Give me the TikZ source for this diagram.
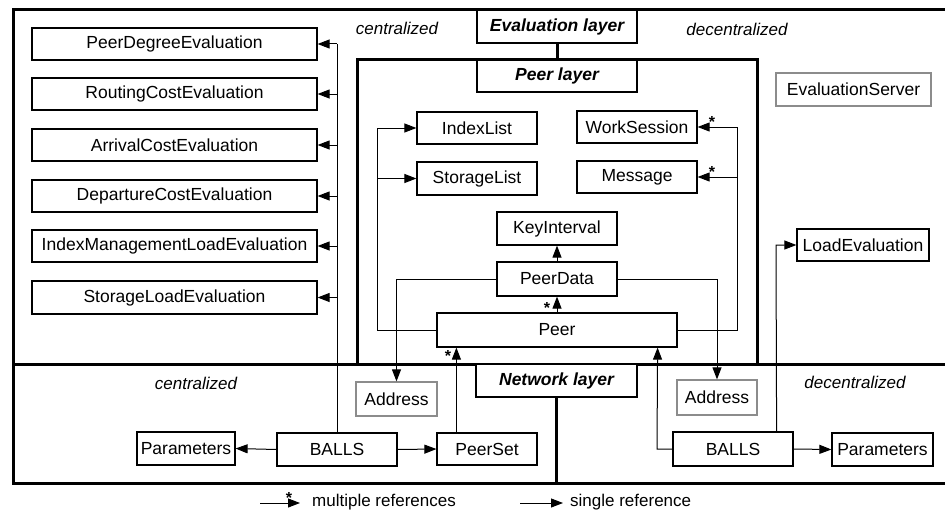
\documentclass[tikz,border=0pt]{standalone}
\usepackage{fontspec}
\setmainfont{Liberation Sans}
\usetikzlibrary{arrows.meta}
\begin{document}
\begin{tikzpicture}[x=1pt,y=-1pt,
  box/.style={draw, line width=1.2pt, inner sep=0pt, fill=white, font=\fontsize{17.5}{20}\selectfont},
  graybox/.style={box, draw=black!45},
  layerbox/.style={box, font=\fontsize{17.5}{20}\selectfont\bfseries\itshape},
  zone/.style={inner sep=0pt, font=\fontsize{17}{20}\selectfont\itshape},
  legendtext/.style={inner sep=0pt, anchor=west, font=\fontsize{17}{20}\selectfont},
  frameline/.style={line width=3pt},
  conn/.style={line width=1pt},
  arr/.style={conn, -{Triangle[length=12pt,width=9pt]}},
  startxt/.style={inner sep=0pt, font=\fontsize{16}{16}\selectfont\bfseries}
]
\useasboundingbox (0,0) rectangle (945,511);

% frames
\draw[frameline] (945,10) -- (13,10) -- (13,483) -- (945,483);
\draw[frameline] (13,364) -- (945,364);
\draw[frameline] (357,364) -- (357,60) -- (757,60) -- (757,364);

% layer label boxes
\node[layerbox, minimum width=160pt, minimum height=33pt] (evallayer) at (557,26.5) {Evaluation layer};
\node[layerbox, minimum width=160pt, minimum height=32pt] (peerlayer) at (557,76) {Peer layer};
\node[layerbox, minimum width=161pt, minimum height=33pt] (netlayer) at (556.5,380.5) {Network layer};
\draw[frameline] (evallayer.south) -- (peerlayer.north);
\draw[frameline] (netlayer.south) -- (556.5,483);

% zone labels
\node[zone] (czt) at (397,28) {centralized};
\node[zone] (dzt) at (737,29) {decentralized};
\node[zone] (czb) at (196,383) {centralized};
\node[zone] (dzb) at (855,382) {decentralized};

% evaluation boxes (left)
\node[box, minimum width=285pt, minimum height=32pt] (pde) at (174.5,44) {PeerDegreeEvaluation};
\node[box, minimum width=285pt, minimum height=32pt] (rce) at (174.5,94) {RoutingCostEvaluation};
\node[box, minimum width=285pt, minimum height=32pt] (ace) at (174.5,145) {ArrivalCostEvaluation};
\node[box, minimum width=285pt, minimum height=32pt] (dce) at (174.5,196) {DepartureCostEvaluation};
\node[box, minimum width=285pt, minimum height=32pt] (imle) at (174.5,246) {IndexManagementLoadEvaluation};
\node[box, minimum width=285pt, minimum height=33pt] (sle) at (174.5,297.5) {StorageLoadEvaluation};

% right side
\node[graybox, minimum width=155pt, minimum height=33pt] (evserver) at (853.5,89.5) {EvaluationServer};
\node[box, minimum width=132pt, minimum height=32pt] (loadev) at (863,245) {LoadEvaluation};

% peer layer boxes
\node[box, minimum width=120pt, minimum height=32pt] (indexlist) at (477,128) {IndexList};
\node[box, minimum width=120pt, minimum height=33pt] (storagelist) at (477,178.5) {StorageList};
\node[box, minimum width=120pt, minimum height=32pt] (worksession) at (637,127) {WorkSession};
\node[box, minimum width=120pt, minimum height=32pt] (message) at (637,177) {Message};
\node[box, minimum width=120pt, minimum height=33pt] (keyinterval) at (557,228.5) {KeyInterval};
\node[box, minimum width=120pt, minimum height=34pt] (peerdata) at (557,279) {PeerData};
\node[box, minimum width=240pt, minimum height=34pt] (peer) at (557,330) {Peer};

% network layer boxes
\node[graybox, minimum width=81pt, minimum height=34pt] (addrL) at (396.5,399) {Address};
\node[graybox, minimum width=80pt, minimum height=35pt] (addrR) at (717,397.5) {Address};
\node[box, minimum width=98pt, minimum height=33pt] (paramL) at (186,448.5) {Parameters};
\node[box, minimum width=120pt, minimum height=33pt] (ballsL) at (337,449.5) {BALLS};
\node[box, minimum width=100pt, minimum height=32pt] (peerset) at (487,449) {PeerSet};
\node[box, minimum width=120pt, minimum height=34pt] (ballsR) at (733,449) {BALLS};
\node[box, minimum width=101pt, minimum height=33pt] (paramR) at (882.5,449.5) {Parameters};

% BALLS (left) -> evaluations
\coordinate (evtop) at (337,44);
\draw[conn] (ballsL.north) -- (evtop);
\draw[arr] (evtop) -- (pde.east);
\draw[arr] (ballsL.north |- rce.east) -- (rce.east);
\draw[arr] (ballsL.north |- ace.east) -- (ace.east);
\draw[arr] (ballsL.north |- dce.east) -- (dce.east);
\draw[arr] (ballsL.north |- imle.east) -- (imle.east);
\draw[arr] (ballsL.north |- sle.east) -- (sle.east);

% BALLS (left) -> Parameters, PeerSet
\draw[arr] (ballsL.west) -- (paramL.east);
\draw[arr] (ballsL.east) -- (peerset.west);

% PeerSet -> Peer (multiple)
\draw[arr] ([xshift=20pt]peerset.north west) -- ([xshift=20pt]peer.south west);
\node[startxt] (s1) at (448,356) {*};

% BALLS (right) -> Peer
\coordinate (br1) at (657,449);
\draw[arr] (ballsR.west) -- (br1) -- ([xshift=-20pt]peer.south east);
% BALLS (right) -> Parameters
\draw[arr] (ballsR.east) -- (paramR.west);
% BALLS (right) -> LoadEvaluation
\coordinate (le1) at (776,245);
\draw[arr] ([xshift=-17pt]ballsR.north east) -- (le1) -- (loadev.west);

% Peer -> PeerData (multiple), PeerData -> KeyInterval
\draw[arr] (peer.north) -- (peerdata.south);
\node[startxt] (s2) at (547,308) {*};
\draw[arr] (peerdata.north) -- (keyinterval.south);

% PeerData -> Addresses
\coordinate (pdl) at (396.5,279);
\draw[arr] (peerdata.west) -- (pdl) -- (addrL.north);
\coordinate (pdr) at (717,279);
\draw[arr] (peerdata.east) -- (pdr) -- (addrR.north);

% Peer -> IndexList, StorageList
\coordinate (pl1) at (377,330);
\coordinate (pl2) at (377,128);
\draw[conn] (peer.west) -- (pl1) -- (pl2);
\draw[arr] (pl2) -- (indexlist.west);
\draw[arr] (pl1 |- storagelist.west) -- (storagelist.west);

% Peer -> WorkSession, Message (multiple)
\coordinate (pr1) at (737,330);
\coordinate (pr2) at (737,127);
\draw[conn] (peer.east) -- (pr1) -- (pr2);
\draw[arr] (pr2) -- (worksession.east);
\draw[arr] (pr1 |- message.east) -- (message.east);
\node[startxt] (s3) at (712,122) {*};
\node[startxt] (s4) at (712,172) {*};

% legend
\coordinate (lm1) at (260,503);
\coordinate (lm2) at (300,503);
\draw[arr] (lm1) -- (lm2);
\node[startxt] (s5) at (289,498) {*};
\node[legendtext] (lmt) at (312,502) {multiple references};
\coordinate (ls1) at (520,503);
\coordinate (ls2) at (563,503);
\draw[arr] (ls1) -- (ls2);
\node[legendtext] (lst) at (570,502) {single reference};
\end{tikzpicture}
\end{document}
